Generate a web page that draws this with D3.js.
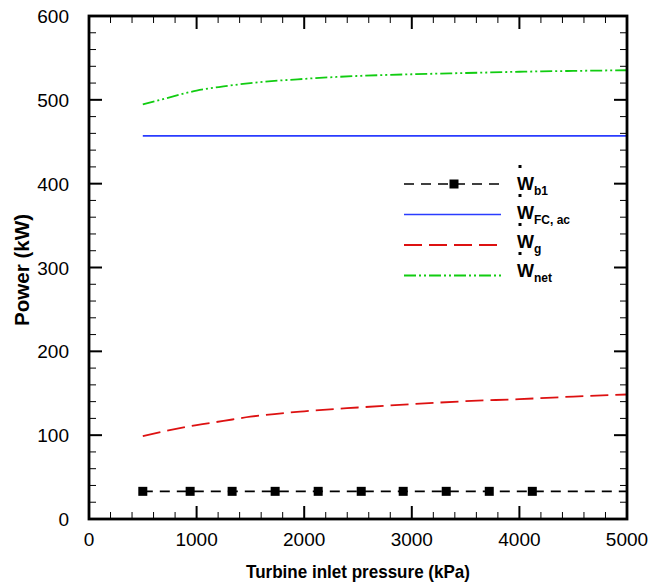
<!DOCTYPE html>
<html>
<head>
<meta charset="utf-8">
<script src="https://cdn.jsdelivr.net/npm/d3@7"></script>
<style>
  body { margin: 0; background: #fff; }
  svg { display: block; font-family: "Liberation Sans", Arial, Helvetica, sans-serif; }
</style>
</head>
<body>
<svg id="chart" width="650" height="583"></svg>
<script>
// Turbine inlet pressure (kPa) sample points
const pressure = [500, 750, 1000, 1250, 1500, 2000, 2500, 3000, 3500, 4000, 4500, 5000];
// Blower power (constant)
const wB1 = [33, 33, 33, 33, 33, 33, 33, 33, 33, 33, 33, 33];
// Fuel cell AC power (constant)
const wFCac = [457, 457, 457, 457, 457, 457, 457, 457, 457, 457, 457, 457];
// Gas turbine power
const wG = [99, 106, 112, 117, 122, 128.5, 133, 137, 140.5, 143, 146, 148.5];
// Net power
const wNet = [494.5, 503, 511, 516, 520, 525, 528.5, 530.5, 532, 533.5, 534.5, 535.3];
// Pressures where the blower symbols sit
const markerPressure = [500, 940, 1330, 1730, 2130, 2530, 2920, 3320, 3720, 4120];

const xTicks = [0, 1000, 2000, 3000, 4000, 5000];
const yTicks = [0, 100, 200, 300, 400, 500, 600];

const legendItems = [
  { sub: "b1", color: "#000000", dash: "10,7", width: 1.6, marker: true },
  { sub: "FC, ac", color: "#2a3cff", dash: null, width: 1.6, marker: false },
  { sub: "g", color: "#dd1111", dash: "18,7", width: 1.8, marker: false },
  { sub: "net", color: "#11cc11", dash: "12,3,2,3,2,3", width: 1.8, marker: false }
];
const seriesValues = [wB1, wFCac, wG, wNet];

const svg = d3.select("#chart");
const m = { left: 89, right: 627, top: 16, bottom: 519 };

const x = d3.scaleLinear().domain([0, 5000]).range([m.left, m.right]);
const y = d3.scaleLinear().domain([0, 600]).range([m.bottom, m.top]);

const line = d3.line()
  .x(d => x(d[0]))
  .y(d => y(d[1]))
  .curve(d3.curveMonotoneX);

// data curves
const plot = svg.append("g");
seriesValues.forEach((vals, i) => {
  const it = legendItems[i];
  plot.append("path")
    .datum(pressure.map((p, k) => [p, vals[k]]))
    .attr("d", line)
    .attr("fill", "none")
    .attr("stroke", it.color)
    .attr("stroke-width", it.width)
    .attr("stroke-dasharray", it.dash);
});

// blower symbols
const bVal = wB1[0];
plot.selectAll("rect.sym")
  .data(markerPressure)
  .join("rect")
  .attr("class", "sym")
  .attr("x", d => x(d) - 4.5)
  .attr("y", y(bVal) - 4.5)
  .attr("width", 9)
  .attr("height", 9)
  .attr("fill", "#000");

// tick marks (inward on all four sides)
const axes = svg.append("g");
const xMinor = d3.range(0, 5001, 200).filter(v => v % 1000 !== 0);
const yMinor = d3.range(0, 601, 20).filter(v => v % 100 !== 0);

function hTicks(vals, len, w) {
  vals.forEach(v => {
    axes.append("line").attr("x1", x(v)).attr("x2", x(v))
      .attr("y1", m.bottom).attr("y2", m.bottom - len)
      .attr("stroke", "#000").attr("stroke-width", w);
    axes.append("line").attr("x1", x(v)).attr("x2", x(v))
      .attr("y1", m.top).attr("y2", m.top + len)
      .attr("stroke", "#000").attr("stroke-width", w);
  });
}
function vTicks(vals, len, w) {
  vals.forEach(v => {
    axes.append("line").attr("y1", y(v)).attr("y2", y(v))
      .attr("x1", m.left).attr("x2", m.left + len)
      .attr("stroke", "#000").attr("stroke-width", w);
    axes.append("line").attr("y1", y(v)).attr("y2", y(v))
      .attr("x1", m.right).attr("x2", m.right - len)
      .attr("stroke", "#000").attr("stroke-width", w);
  });
}
hTicks(xMinor, 7, 1);
hTicks(xTicks, 13, 2);
vTicks(yMinor, 7, 1);
vTicks(yTicks, 13, 2);

axes.append("rect")
  .attr("x", m.left).attr("y", m.top)
  .attr("width", m.right - m.left).attr("height", m.bottom - m.top)
  .attr("fill", "none").attr("stroke", "#000").attr("stroke-width", 2.8);

// tick labels
axes.selectAll("text.xt").data(xTicks).join("text")
  .attr("class", "xt")
  .attr("x", d => x(d)).attr("y", 546)
  .attr("text-anchor", "middle")
  .attr("font-size", 19)
  .text(d => d);
axes.selectAll("text.yt").data(yTicks).join("text")
  .attr("class", "yt")
  .attr("x", 69).attr("y", d => y(d) + 7)
  .attr("text-anchor", "end")
  .attr("font-size", 19)
  .text(d => d);

// axis titles
svg.append("text")
  .attr("x", 358).attr("y", 578)
  .attr("text-anchor", "middle")
  .attr("font-size", 19).attr("font-weight", "bold")
  .attr("textLength", 224).attr("lengthAdjust", "spacingAndGlyphs")
  .text("Turbine inlet pressure (kPa)");
svg.append("text")
  .attr("transform", "translate(29,270) rotate(-90)")
  .attr("text-anchor", "middle")
  .attr("font-size", 20).attr("font-weight", "bold")
  .attr("textLength", 112).attr("lengthAdjust", "spacingAndGlyphs")
  .text("Power (kW)");

// legend
const leg = svg.append("g");
legendItems.forEach((it, i) => {
  const ly = 184 + i * 30.5;
  const ty = 190 + i * 29;
  leg.append("line")
    .attr("x1", 404).attr("x2", 501)
    .attr("y1", ly).attr("y2", ly)
    .attr("stroke", it.color)
    .attr("stroke-width", it.width)
    .attr("stroke-dasharray", it.dash);
  if (it.marker) {
    leg.append("rect")
      .attr("x", 454 - 4.5).attr("y", ly - 4.5)
      .attr("width", 9).attr("height", 9)
      .attr("fill", "#000");
  }
  // rate dot over W
  leg.append("rect")
    .attr("x", 518.5).attr("y", ty - 25)
    .attr("width", 3).attr("height", 3)
    .attr("fill", "#000");
  const t = leg.append("text")
    .attr("x", 517).attr("y", ty)
    .attr("font-size", 18).attr("font-weight", "bold");
  t.append("tspan").text("W");
  t.append("tspan").attr("dy", 5).attr("font-size", 12).text(it.sub);
});
</script>
</body>
</html>
